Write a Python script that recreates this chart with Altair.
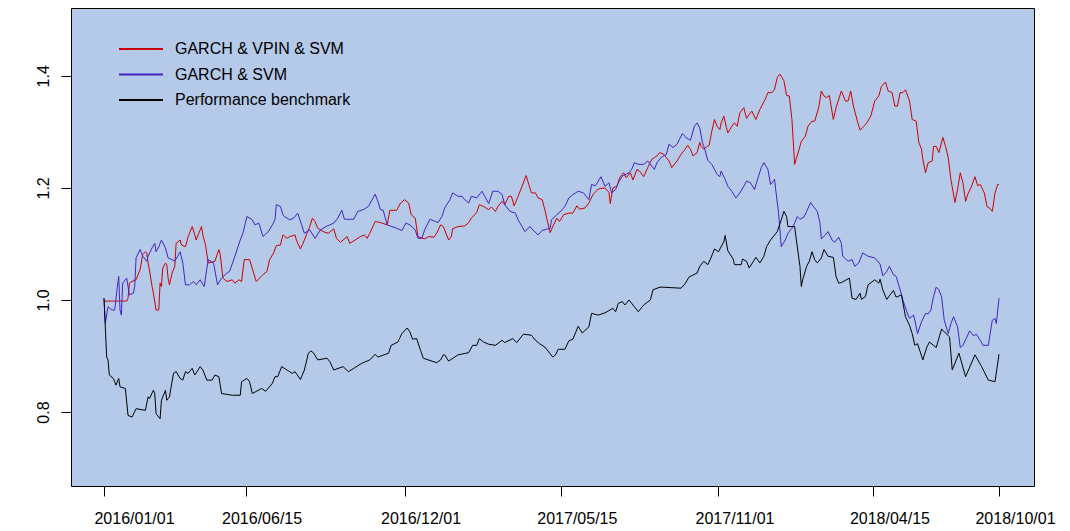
import altair as alt
import pandas as pd

series_names = ["GARCH & VPIN & SVM", "GARCH & SVM", "Performance benchmark"]
series_colors = ["#cc0000", "#4424c4", "#000000"]

# trading-day index of each reading, and portfolio value
red_day = [0,17,18,19,21,24,27,29,31,32,33,34,36,37,39,41,42,43,44,46,47,48,49,51,53,54,57,58,61,63,64,66,68,69,71,73,74,76,78,83,86,87,89,92,96,98,101,103,105,109,112,114,119,122,124,127,129,132,134,137,139,143,144,147,149,152,154,156,158,160,164,168,172,174,177,182,184,192,195,197,199,203,207,212,214,219,222,225,228,230,233,235,240,243,247,249,252,254,258,260,261,265,270,273,275,279,281,284,288,290,293,295,298,300,303,305,307,310,313,316,318,320,323,325,328,330,332,334,336,339,341,344,348,351,354,356,360,363,366,370,375,378,379,381,384,386,389,391,394,396,399,401,404,407,410,412,414,416,419,421,423,425,429,432,435,437,439,441,444,446,447,449,451,453,455,457,459,461,462,464,466,467,470,472,474,476,479,481,483,485,488,491,495,497,500,502,504,506,509,511,513,515,517,520,522,525,527,530,532,535,537,539,541,543,546,548,552,555,557,559,561,564,566,569,571,574,577,580,582,585,587,590,592,594,596,598,600,603,605,608,610,612,613,615,617,620,621,623,625,628,630,632,634,637,639,641,643,645,647,649,652,654,656,659,661,663,665,667,669,670]
red_val = [0.998,0.998,1.003,1.030,1.033,1.036,1.054,1.081,1.086,1.084,1.066,1.054,1.024,1.012,0.982,0.982,1.030,1.024,1.057,1.066,1.063,1.039,1.027,1.048,1.060,1.101,1.107,1.098,1.095,1.113,1.119,1.131,1.116,1.107,1.119,1.131,1.116,1.098,1.066,1.069,1.090,1.081,1.039,1.033,1.036,1.030,1.036,1.033,1.072,1.072,1.048,1.033,1.045,1.051,1.072,1.084,1.097,1.098,1.116,1.110,1.113,1.116,1.107,1.091,1.101,1.119,1.131,1.146,1.140,1.128,1.122,1.119,1.127,1.110,1.103,1.113,1.101,1.113,1.116,1.110,1.119,1.140,1.138,1.134,1.160,1.160,1.173,1.179,1.173,1.152,1.146,1.113,1.109,1.113,1.112,1.119,1.134,1.131,1.107,1.113,1.127,1.131,1.132,1.138,1.146,1.156,1.170,1.167,1.161,1.166,1.158,1.167,1.176,1.170,1.185,1.185,1.168,1.185,1.203,1.222,1.206,1.191,1.191,1.182,1.179,1.161,1.140,1.120,1.131,1.146,1.140,1.152,1.155,1.155,1.168,1.162,1.164,1.173,1.188,1.198,1.200,1.192,1.172,1.200,1.203,1.218,1.227,1.218,1.227,1.214,1.233,1.230,1.220,1.236,1.251,1.254,1.257,1.263,1.260,1.254,1.248,1.236,1.248,1.260,1.269,1.276,1.269,1.257,1.263,1.281,1.274,1.269,1.273,1.276,1.301,1.322,1.310,1.304,1.316,1.328,1.307,1.298,1.310,1.316,1.310,1.334,1.343,1.324,1.331,1.337,1.322,1.340,1.358,1.370,1.370,1.376,1.397,1.403,1.391,1.365,1.364,1.322,1.242,1.266,1.283,1.292,1.310,1.319,1.319,1.343,1.373,1.364,1.361,1.365,1.322,1.343,1.373,1.355,1.355,1.373,1.346,1.319,1.303,1.310,1.316,1.328,1.355,1.364,1.381,1.389,1.373,1.370,1.346,1.346,1.370,1.370,1.375,1.355,1.322,1.319,1.281,1.269,1.251,1.227,1.245,1.248,1.274,1.274,1.263,1.290,1.274,1.254,1.215,1.174,1.197,1.227,1.209,1.176,1.191,1.200,1.220,1.204,1.206,1.191,1.167,1.164,1.158,1.191,1.206,1.206]

blue_day = [0,1,3,6,8,10,11,12,13,14,17,19,22,23,24,27,29,32,33,36,38,39,41,43,46,48,51,53,57,59,61,64,67,69,72,75,78,82,85,88,92,94,98,102,104,107,111,113,116,119,123,126,128,129,132,134,135,139,142,145,148,150,154,158,162,167,172,175,178,180,187,190,194,198,203,205,207,209,212,219,223,226,229,233,235,238,240,244,248,250,253,255,259,261,265,268,270,273,275,279,283,285,288,291,295,298,300,304,308,310,313,315,319,321,325,328,334,335,339,343,345,348,351,355,359,361,363,365,368,370,372,375,378,380,383,385,388,393,395,397,400,404,407,410,412,414,417,421,423,426,429,433,436,439,442,444,446,448,450,452,455,459,461,462,465,467,470,473,476,479,481,484,487,490,492,494,497,499,502,503,505,507,510,512,515,517,519,521,524,526,529,531,534,536,537,540,542,545,547,550,552,553,557,560,562,565,568,572,577,581,583,586,588,591,593,596,598,601,603,606,607,609,612,615,617,619,621,623,625,627,629,632,634,636,639,641,643,646,648,651,653,656,658,662,665,667,668,670]
blue_val = [1.003,0.958,0.988,0.982,0.982,1.024,1.042,0.982,0.973,1.030,1.039,1.009,1.012,1.024,1.075,1.090,1.078,1.069,1.078,1.093,1.101,1.086,1.095,1.107,1.093,1.075,1.072,1.069,1.086,1.066,1.027,1.027,1.033,1.027,1.036,1.024,1.072,1.066,1.027,1.039,1.048,1.051,1.078,1.107,1.119,1.149,1.143,1.134,1.137,1.113,1.122,1.134,1.143,1.170,1.167,1.152,1.149,1.143,1.146,1.155,1.134,1.119,1.125,1.110,1.125,1.132,1.137,1.146,1.160,1.144,1.144,1.158,1.161,1.167,1.189,1.176,1.161,1.160,1.134,1.128,1.124,1.137,1.134,1.125,1.110,1.110,1.125,1.144,1.140,1.138,1.149,1.164,1.179,1.191,1.185,1.185,1.179,1.173,1.185,1.182,1.194,1.185,1.172,1.194,1.194,1.188,1.170,1.158,1.155,1.143,1.131,1.122,1.131,1.125,1.116,1.124,1.128,1.143,1.152,1.161,1.167,1.182,1.188,1.194,1.191,1.185,1.179,1.206,1.204,1.212,1.220,1.203,1.209,1.191,1.197,1.209,1.221,1.227,1.233,1.245,1.242,1.242,1.248,1.239,1.233,1.245,1.254,1.260,1.278,1.272,1.278,1.297,1.289,1.285,1.310,1.316,1.307,1.281,1.267,1.249,1.242,1.224,1.220,1.230,1.215,1.203,1.194,1.182,1.191,1.203,1.212,1.209,1.197,1.221,1.236,1.245,1.233,1.206,1.215,1.194,1.155,1.095,1.107,1.119,1.128,1.137,1.149,1.144,1.148,1.158,1.174,1.167,1.158,1.137,1.109,1.116,1.122,1.107,1.103,1.112,1.101,1.078,1.069,1.072,1.060,1.066,1.084,1.078,1.075,1.064,1.043,1.051,1.060,1.045,1.042,1.018,1.000,0.979,0.967,0.973,0.964,0.940,0.961,0.976,0.975,0.982,1.006,1.023,1.018,1.006,0.964,0.940,0.958,0.970,0.952,0.915,0.919,0.934,0.945,0.936,0.939,0.928,0.919,0.919,0.964,0.967,0.958,1.003]

black_day = [0,2,3,4,7,9,11,12,16,18,21,24,31,33,34,37,38,39,42,43,46,47,49,52,54,57,59,61,63,66,68,72,74,77,81,83,86,88,96,102,103,107,109,111,118,121,126,128,130,133,137,141,143,147,150,153,155,157,160,167,169,172,179,183,187,193,199,203,205,213,215,220,223,227,229,231,234,237,239,249,252,254,255,258,265,273,276,279,281,284,288,293,298,300,306,309,314,320,323,326,330,333,336,338,340,345,348,351,355,358,363,365,370,375,381,383,385,388,390,393,395,400,404,409,411,414,417,432,435,438,444,446,449,452,454,457,460,464,465,467,471,472,477,478,481,483,488,491,494,496,499,504,507,509,511,512,517,519,521,522,523,526,528,530,532,534,537,539,542,546,548,550,552,558,560,563,566,567,570,572,577,580,581,583,586,591,593,597,600,603,605,607,609,613,616,618,623,627,633,635,640,645,652,657,662,667,670]
black_val = [1.003,0.898,0.893,0.866,0.860,0.848,0.860,0.845,0.842,0.794,0.791,0.806,0.803,0.827,0.824,0.839,0.833,0.797,0.788,0.821,0.839,0.821,0.827,0.869,0.872,0.860,0.857,0.872,0.869,0.878,0.866,0.881,0.875,0.857,0.857,0.866,0.863,0.833,0.830,0.830,0.854,0.860,0.854,0.833,0.842,0.837,0.851,0.863,0.863,0.881,0.875,0.869,0.872,0.858,0.875,0.905,0.909,0.905,0.893,0.896,0.890,0.875,0.881,0.872,0.878,0.887,0.893,0.903,0.898,0.905,0.919,0.925,0.940,0.950,0.943,0.930,0.931,0.910,0.896,0.888,0.893,0.902,0.902,0.891,0.902,0.906,0.919,0.919,0.931,0.925,0.921,0.919,0.928,0.924,0.931,0.924,0.939,0.937,0.928,0.922,0.916,0.907,0.898,0.902,0.912,0.912,0.927,0.930,0.953,0.941,0.952,0.976,0.973,0.977,0.985,0.979,0.994,0.997,0.991,1.000,0.994,0.979,0.991,1.000,1.018,1.021,1.023,1.021,1.029,1.041,1.048,1.060,1.069,1.063,1.073,1.091,1.086,1.104,1.115,1.088,1.073,1.063,1.063,1.073,1.069,1.057,1.076,1.066,1.078,1.095,1.107,1.122,1.143,1.158,1.149,1.131,1.131,1.095,1.060,1.024,1.036,1.060,1.069,1.086,1.072,1.066,1.075,1.090,1.078,1.076,1.042,1.030,1.031,1.039,1.003,1.001,1.012,1.001,1.006,1.027,1.036,1.030,1.037,1.018,1.001,1.017,1.005,1.009,0.970,0.955,0.940,0.919,0.922,0.893,0.916,0.925,0.915,0.948,0.934,0.875,0.905,0.863,0.902,0.881,0.857,0.854,0.903]

tick_days = [0, 106, 225, 342, 460, 576, 670]
tick_labels = ["2016/01/01", "2016/06/15", "2016/12/01", "2017/05/15",
               "2017/11/01", "2018/04/15", "2018/10/01"]
y_ticks = [0.8, 1.0, 1.2, 1.4]

rows = []
for name, days, vals in zip(series_names, [red_day, blue_day, black_day],
                            [red_val, blue_val, black_val]):
    if len(days) != len(vals):
        raise ValueError(f"{name}: {len(days)} days vs {len(vals)} values")
    for d, v in zip(days, vals):
        rows.append({"day": d, "value": v, "series": name})
df = pd.DataFrame(rows)

label_expr = ""
for d, lab in zip(tick_days, tick_labels):
    label_expr += f"datum.value == {d} ? '{lab}' : "
label_expr += "''"

# the reference prints its date labels a little right of their ticks
x_label_shift = {"condition": {"test": f"datum.value == {tick_days[0]}", "value": 30},
                 "value": 16}

FONT = "Liberation Sans"

chart = alt.Chart(df).mark_line(strokeWidth=1, clip=True).encode(
    x=alt.X("day:Q",
            scale=alt.Scale(domain=[-24.7, 696.2], nice=False, zero=False),
            axis=alt.Axis(values=tick_days, labelExpr=label_expr, title=None,
                          grid=False, domain=False, tickSize=10, tickColor="black",
                          labelFontSize=16, labelFont=FONT, labelColor="black",
                          labelPadding=14, labelBaseline="top", labelFlush=False,
                          labelOverlap=False, labelOffset=x_label_shift)),
    y=alt.Y("value:Q",
            scale=alt.Scale(domain=[0.668, 1.521], nice=False, zero=False),
            axis=alt.Axis(values=y_ticks, format=".1f", title=None, grid=False,
                          domain=False, tickSize=10, tickColor="black",
                          labelFontSize=16, labelFont=FONT, labelColor="black",
                          labelAngle=270, labelAlign="center",
                          labelBaseline="alphabetic", labelPadding=13)),
    color=alt.Color("series:N",
                    scale=alt.Scale(domain=series_names, range=series_colors),
                    legend=alt.Legend(title=None, orient="none", legendX=58,
                                      legendY=29, symbolType="M-2,0H2",
                                      symbolSize=484, symbolStrokeWidth=2,
                                      labelFontSize=16, labelFont=FONT,
                                      labelColor="black", labelOffset=22,
                                      labelLimit=0, rowPadding=5.5,
                                      padding=0)),
).properties(
    width=963, height=478,
    background="white",
    autosize=alt.AutoSizeParams(type="none"),
    padding={"left": 63, "top": 0, "right": 28, "bottom": 45},
).configure_view(
    fill="#b5c9e9", stroke="black", strokeWidth=1
)

chart.save("out.html", embed_options={"renderer": "svg", "actions": False})
